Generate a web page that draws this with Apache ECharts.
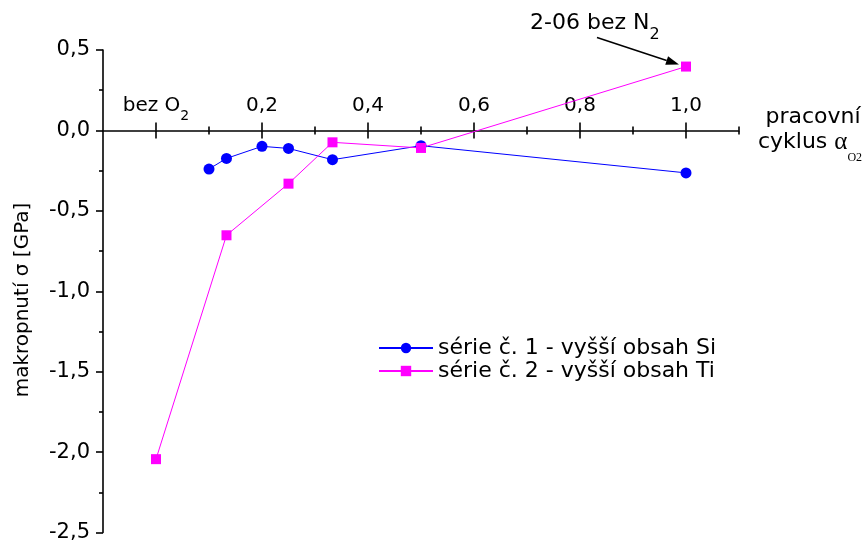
<!DOCTYPE html>
<html>
<head>
<meta charset="utf-8">
<script src="https://cdn.jsdelivr.net/npm/echarts@6/dist/echarts.min.js"></script>
<style>
  html, body { margin: 0; padding: 0; background: #ffffff; }
  #chart { width: 868px; height: 543px; }
</style>
</head>
<body>
<div id="chart"></div>
<script>
// Macro stress vs. oxygen duty cycle (0 = deposited without O2)
const seriesNames = ['série č. 1 - vyšší obsah Si', 'série č. 2 - vyšší obsah Ti'];
const dutyCycle1 = [0.1, 0.133, 0.2, 0.25, 0.333, 0.5, 1.0];
const stress1 = [-0.24, -0.174, -0.099, -0.112, -0.182, -0.095, -0.264];
const dutyCycle2 = [0.0, 0.133, 0.25, 0.333, 0.5, 1.0];
const stress2 = [-2.044, -0.652, -0.331, -0.074, -0.109, 0.397];
const xMajorTicks = [0, 0.2, 0.4, 0.6, 0.8, 1.0];
const xMinorTicks = [0.1, 0.3, 0.5, 0.7, 0.9, 1.1];
const annotatedPoint = [1.0, 0.397];

const FONT = 'DejaVu Sans';
const X_MIN = -0.1, X_MAX = 1.1;
const GRID_TOP = 50;

function pairs(xs, ys) { return xs.map((x, i) => [x, ys[i]]); }
function decimalComma(v) { return v.toFixed(1).replace('.', ','); }

// All x axes sit on the y = 0 line (offset is set once the scale is known);
// tick-only copies pointing the other way make the ticks cross the line.
function xAxisPart(values, len, inside, withLine, withLabels) {
  return {
    type: 'value', min: X_MIN, max: X_MAX, position: 'top', offset: 0,
    axisLine: { show: withLine, onZero: false, lineStyle: { color: '#000', width: 1.6 } },
    axisTick: { show: true, customValues: values, length: len, inside: inside,
                lineStyle: { color: '#000', width: 1.6 } },
    axisLabel: withLabels ? {
      show: true, customValues: values, margin: 7, color: '#000',
      formatter: v => Math.abs(v) < 1e-9 ? '{t|bez O}{s|2}' : '{t|' + decimalComma(v) + '}',
      rich: {
        t: { fontFamily: FONT, fontSize: 20, height: 20, padding: [0, 0, 8, 0], verticalAlign: 'top', color: '#000' },
        s: { fontFamily: FONT, fontSize: 14, height: 14, padding: [14, 0, 0, 0], verticalAlign: 'top', color: '#000' }
      }
    } : { show: false },
    splitLine: { show: false }
  };
}

const xAxes = [
  xAxisPart(xMajorTicks, 8, false, true, true),
  xAxisPart(xMajorTicks, 8, true, false, false),
  xAxisPart(xMinorTicks, 4, false, false, false),
  xAxisPart(xMinorTicks, 4, true, false, false)
];

const chart = echarts.init(document.getElementById('chart'), null, { renderer: 'canvas' });

chart.setOption({
  animation: false,
  backgroundColor: '#ffffff',
  grid: { left: 103, right: 129, top: GRID_TOP, bottom: 9, containLabel: false },
  xAxis: xAxes,
  yAxis: {
    type: 'value', min: -2.5, max: 0.5, interval: 0.5,
    axisLine: { show: true, onZero: false, lineStyle: { color: '#000', width: 1.6 } },
    axisTick: { show: true, length: 7, inside: false, lineStyle: { color: '#000', width: 1.6 } },
    minorTick: { show: true, splitNumber: 2, length: 4, lineStyle: { color: '#000', width: 1.6 } },
    axisLabel: { margin: 13, color: '#000', fontFamily: FONT, fontSize: 21, formatter: decimalComma },
    splitLine: { show: false }
  },
  legend: {
    orient: 'vertical', left: 378, top: 337, padding: 0,
    itemWidth: 54, itemHeight: 13, itemGap: 1,
    textStyle: { fontFamily: FONT, fontSize: 22, color: '#000' },
    data: seriesNames
  },
  series: [
    {
      name: seriesNames[0], type: 'line', data: pairs(dutyCycle1, stress1),
      symbol: 'circle', symbolSize: 11, clip: false,
      lineStyle: { color: '#0000ff', width: 1 },
      itemStyle: { color: '#0000ff' }
    },
    {
      name: seriesNames[1], type: 'line', data: pairs(dutyCycle2, stress2),
      symbol: 'rect', symbolSize: 10, clip: false,
      lineStyle: { color: '#ff00ff', width: 1 },
      itemStyle: { color: '#ff00ff' }
    }
  ]
});

// Move the x axes down onto the y = 0 line
const y0 = chart.convertToPixel({ yAxisIndex: 0 }, 0);
chart.setOption({ xAxis: xAxes.map(() => ({ offset: GRID_TOP - y0 })) });

// Axis titles and the "2-06 bez N2" callout
const p = chart.convertToPixel({ xAxisIndex: 0, yAxisIndex: 0 }, annotatedPoint);
const tail = [p[0] - 89, p[1] - 29];
const tip = [p[0] - 7, p[1] - 2];
const dx = tip[0] - tail[0], dy = tip[1] - tail[1];
const L = Math.hypot(dx, dy), ux = dx / L, uy = dy / L;
const headLen = 13, headHalf = 4.5;
const base = [tip[0] - ux * headLen, tip[1] - uy * headLen];

chart.setOption({
  graphic: [
    {
      type: 'text', x: 23, y: 300, rotation: Math.PI / 2,
      style: { text: 'makropnutí σ [GPa]', fontFamily: FONT, fontSize: 20, fill: '#000',
               align: 'center', verticalAlign: 'middle', textAlign: 'center', textVerticalAlign: 'middle' }
    },
    {
      type: 'text', x: 813, y: 117,
      style: { text: 'pracovní', fontFamily: FONT, fontSize: 22, fill: '#000',
               align: 'center', verticalAlign: 'middle', textAlign: 'center', textVerticalAlign: 'middle' }
    },
    {
      type: 'text', x: 810, y: 131,
      style: {
        text: '{m|cyklus }{a|α}{s|O2}', fill: '#000',
        align: 'center', verticalAlign: 'top', textAlign: 'center', textVerticalAlign: 'top',
        rich: {
          m: { fontFamily: FONT, fontSize: 22, height: 22, padding: [0, 0, 11, 0], verticalAlign: 'top', fill: '#000' },
          a: { fontFamily: 'Liberation Serif', fontSize: 25, height: 22, padding: [0, 0, 11, 0], verticalAlign: 'top', fill: '#000' },
          s: { fontFamily: 'Liberation Serif', fontSize: 12, height: 12, padding: [21, 0, 0, 0], verticalAlign: 'top', fill: '#000' }
        }
      }
    },
    {
      type: 'text', x: p[0] - 156, y: p[1] - 54,
      style: {
        text: '{m|2-06 bez N}{s|2}', fill: '#000',
        align: 'left', verticalAlign: 'top', textAlign: 'left', textVerticalAlign: 'top',
        rich: {
          m: { fontFamily: FONT, fontSize: 22, height: 22, padding: [0, 0, 8, 0], verticalAlign: 'top', fill: '#000' },
          s: { fontFamily: FONT, fontSize: 16, height: 16, padding: [14, 0, 0, 0], verticalAlign: 'top', fill: '#000' }
        }
      }
    },
    {
      type: 'line',
      shape: { x1: tail[0], y1: tail[1], x2: base[0], y2: base[1] },
      style: { stroke: '#000', lineWidth: 1.5 }
    },
    {
      type: 'polygon',
      shape: { points: [
        tip,
        [base[0] - uy * headHalf, base[1] + ux * headHalf],
        [base[0] + uy * headHalf, base[1] - ux * headHalf]
      ] },
      style: { fill: '#000' }
    }
  ]
});
</script>
</body>
</html>
